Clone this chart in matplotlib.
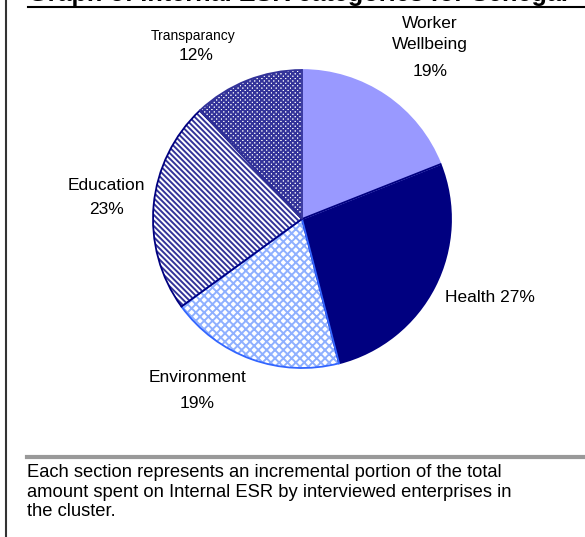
import matplotlib.pyplot as plt
from matplotlib.lines import Line2D

plt.rcParams['font.family'] = ['Liberation Sans', 'DejaVu Sans']
plt.rcParams['hatch.linewidth'] = 1.4

# Internal ESR spending by category (percent)
categories = ['Worker\nWellbeing', 'Health', 'Environment', 'Education', 'Transparancy']
shares = [19, 27, 19, 23, 12]
title = 'Graph of Internal ESR categories for Senegal'
note = ('Each section represents an incremental portion of the total\n'
        'amount spent on Internal ESR by interviewed enterprises in\n'
        'the cluster.')

fills = ['#9999FF', '#000080', 'white', 'white', 'white']
hatch_cols = ['#9999FF', '#000080', '#8FB0FF', '#333399', '#333399']
edge_cols = ['#9999FF', '#000080', '#3366FF', '#000080', '#333399']
hatches = [None, None, 'xxxx', '\\\\\\\\\\\\', 'xxxxxxx']

W, H = 585, 537
fig = plt.figure(figsize=(W / 100, H / 100), dpi=100)
ax = fig.add_axes([0, 0, 1, 1])

# pie is drawn in pixel coordinates (y measured up from the bottom)
cx, cy, r = 302, H - 219, 149
wedges, _ = ax.pie(shares, colors=fills, startangle=90, counterclock=False,
                   center=(cx, cy), radius=r,
                   wedgeprops=dict(linewidth=0))
for w, hc, h in zip(wedges, hatch_cols, hatches):
    w.set_edgecolor(hc)
    if h:
        w.set_hatch(h)
outline, _ = ax.pie(shares, startangle=90, counterclock=False,
                    center=(cx, cy), radius=r,
                    wedgeprops=dict(fill=False, linewidth=1.3))
for w, ec in zip(outline, edge_cols):
    w.set_edgecolor(ec)

# data labels: name and percentage (Health is on one line)
name_xy = [(430, 34), None, (197, 378), (106, 185), (193, 36)]
pct_xy = [(430, 72), None, (197, 403), (106, 210), (196, 56)]
name_size = [12.5, 12.5, 12.5, 12.5, 10]
for cat, s, nxy, pxy, fs in zip(categories, shares, name_xy, pct_xy, name_size):
    if nxy is None:
        ax.text(490, H - 297, f'{cat} {s}%', ha='center', va='center', fontsize=12.5)
        continue
    ax.text(nxy[0], H - nxy[1], cat, ha='center', va='center', fontsize=fs, linespacing=1.55)
    ax.text(pxy[0], H - pxy[1], f'{s}%', ha='center', va='center', fontsize=12.5)

# title (clipped at the top edge) and its underline
ax.text(28, H - 6, title, fontsize=18.2, fontweight='bold', ha='left', va='bottom')
ax.add_line(Line2D([28, W], [H - 7, H - 7], color='black', lw=1.5))

# frame pieces and note
ax.add_line(Line2D([6, 6], [0, H], color='#333333', lw=1.5))
ax.add_line(Line2D([27, W], [H - 457, H - 457], color='#999999', lw=3))
ax.text(27, H - 464, note, fontsize=13.2, ha='left', va='top', linespacing=1.2)

ax.set_xlim(0, W)
ax.set_ylim(0, H)
ax.axis('off')

fig.savefig('out.png', dpi=100)
